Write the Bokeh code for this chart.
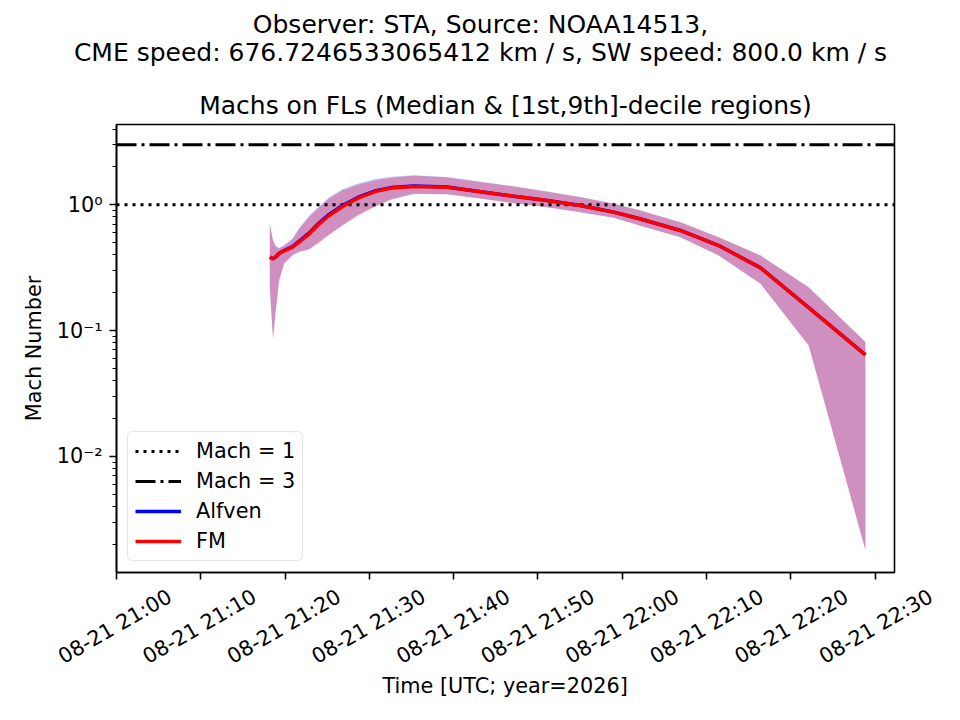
import math
import pandas as pd
from bokeh.plotting import figure
from bokeh.layouts import column
from bokeh.models import (Range1d, FixedTicker, CustomJSTickFormatter, Legend, LegendItem)
from bokeh.core.properties import value
from bokeh.embed import file_html
from bokeh.resources import INLINE

# ---------------- data ----------------
day = "2026-08-21"
times = ["21:18:11", "21:18:34", "21:18:54", "21:19:18", "21:19:53", "21:20:53",
         "21:21:40", "21:22:52", "21:24:03", "21:25:14", "21:26:49", "21:28:47",
         "21:30:46", "21:32:40", "21:35:16", "21:39:14", "21:43:11", "21:47:08",
         "21:51:05", "21:55:02", "21:58:59", "22:02:10", "22:06:54", "22:11:27",
         "22:16:25", "22:22:07", "22:28:51"]

fm_median = [0.383, 0.372, 0.385, 0.41, 0.43, 0.46, 0.505, 0.588, 0.706, 0.822, 0.97, 1.14,
             1.28, 1.36, 1.40, 1.38, 1.27, 1.17, 1.08, 0.987, 0.874, 0.77, 0.625, 0.474,
             0.315, 0.152, 0.064]
fm_p10 = [0.22, 0.086, 0.144, 0.25, 0.339, 0.395, 0.42, 0.44, 0.50, 0.575, 0.68, 0.83,
          0.97, 1.10, 1.22, 1.21, 1.12, 1.03, 0.955, 0.874, 0.79, 0.68, 0.552, 0.395,
          0.235, 0.076, 0.0018]
fm_p90 = [0.70, 0.52, 0.465, 0.45, 0.47, 0.53, 0.64, 0.80, 0.95, 1.12, 1.30, 1.45,
          1.57, 1.64, 1.70, 1.65, 1.52, 1.40, 1.27, 1.15, 1.02, 0.90, 0.727, 0.552,
          0.395, 0.221, 0.081]

alfven_median = [0.383, 0.372, 0.386, 0.412, 0.433, 0.465, 0.513, 0.598, 0.72, 0.838, 0.988,
                 1.158, 1.295, 1.372, 1.408, 1.383, 1.271, 1.17, 1.08, 0.987, 0.874, 0.77,
                 0.625, 0.474, 0.315, 0.152, 0.064]
alfven_p10 = [0.22, 0.087, 0.145, 0.252, 0.341, 0.398, 0.425, 0.445, 0.507, 0.583, 0.69, 0.84,
              0.98, 1.11, 1.225, 1.212, 1.12, 1.03, 0.955, 0.874, 0.79, 0.68, 0.552, 0.395,
              0.235, 0.076, 0.0018]
alfven_p90 = [0.705, 0.525, 0.468, 0.453, 0.476, 0.54, 0.655, 0.82, 0.975, 1.15, 1.33, 1.48,
              1.60, 1.67, 1.72, 1.66, 1.525, 1.405, 1.275, 1.152, 1.022, 0.90, 0.727, 0.552,
              0.395, 0.221, 0.081]

mach_levels = [1.0, 3.0]
mach_labels = ["Mach = 1", "Mach = 3"]
x_tick_times = ["21:00", "21:10", "21:20", "21:30", "21:40", "21:50",
                "22:00", "22:10", "22:20", "22:30"]
x_limits = ["21:00:00", "22:32:18"]
y_limits = [1.19e-3, 4.35]
y_major = [1e-2, 1e-1, 1e0]

suptitle_1 = "Observer: STA, Source: NOAA14513,"
suptitle_2 = "CME speed: 676.7246533065412 km / s, SW speed: 800.0 km / s"
title_text = "Machs on FLs (Median & [1st,9th]-decile regions)"
x_label = "Time [UTC; year=2026]"
y_label = "Mach Number"

# ---------------- layout constants ----------------
FONT = "DejaVu Sans"
W = 960
TOP_H, MAIN_H, BOT_H = 80, 500, 140
FL, FR = 116, 66                 # frame left / right borders
MAIN_TOP, MAIN_BOTTOM = 44, 8    # main figure borders above / below the frame


def ts(t):
    return pd.Timestamp(f"{day} {t}")


def bare_figure(height, x_range, y_range):
    f = figure(width=W, height=height, x_range=x_range, y_range=y_range,
               x_axis_location=None, y_axis_location=None, title=None,
               output_backend="svg", toolbar_location=None, frame_align=False,
               min_border_left=0, min_border_right=0, min_border_top=0, min_border_bottom=0)
    f.outline_line_color = None
    f.grid.visible = False
    return f


x = [ts(t) for t in times]
x0, x1 = ts(x_limits[0]), ts(x_limits[1])

# ---------------- top: suptitle ----------------
top = bare_figure(TOP_H, Range1d(0, W), Range1d(TOP_H, 0))
top.text(x=[W / 2, W / 2], y=[24, 52], text=[suptitle_1, suptitle_2],
         text_align="center", text_baseline="middle", text_font=value(FONT),
         text_font_size=value("25px"), text_color="black")

# ---------------- main plot ----------------
p = figure(width=W, height=MAIN_H, x_axis_type="datetime", y_axis_type="log",
           x_range=Range1d(x0, x1), y_range=Range1d(y_limits[0], y_limits[1]),
           output_backend="svg", toolbar_location=None, frame_align=False,
           min_border_left=FL, min_border_right=FR, min_border_top=MAIN_TOP,
           min_border_bottom=MAIN_BOTTOM)
p.xgrid.visible = False
p.ygrid.visible = False
p.outline_line_color = "black"
p.outline_line_width = 1.6
p.outline_line_alpha = 1.0

p.varea(x=x, y1=alfven_p10, y2=alfven_p90, fill_color="blue", fill_alpha=0.25)
p.varea(x=x, y1=fm_p10, y2=fm_p90, fill_color="red", fill_alpha=0.25)

r_m1 = p.line(x=[x0, x1], y=[mach_levels[0]] * 2, line_color="black", line_width=3,
              line_dash="3 5")
r_m3 = p.line(x=[x0, x1], y=[mach_levels[1]] * 2, line_color="black", line_width=3,
              line_dash="20 5 3 5")

r_alf = p.line(x=x, y=alfven_median, line_color="blue", line_width=3.5)
r_fm = p.line(x=x, y=fm_median, line_color="red", line_width=3.5)

legend = Legend(items=[LegendItem(label=mach_labels[0], renderers=[r_m1]),
                       LegendItem(label=mach_labels[1], renderers=[r_m3]),
                       LegendItem(label="Alfven", renderers=[r_alf]),
                       LegendItem(label="FM", renderers=[r_fm])],
                location="bottom_left", margin=11, padding=7, spacing=6,
                glyph_width=46, glyph_height=20, label_standoff=15,
                label_text_font=FONT, label_text_font_size="20.8px",
                label_text_color="black", border_radius=6,
                border_line_color="#cccccc", border_line_width=1.5,
                background_fill_alpha=0.8)
p.add_layout(legend)

tick_ts = [ts(t + ":00") for t in x_tick_times]
p.xaxis.ticker = FixedTicker(ticks=[t.value // 10**6 for t in tick_ts])
p.xaxis.formatter = CustomJSTickFormatter(code="return '';")

minor = []
for e in range(-3, 1):
    for k in range(2, 10):
        v = k * 10.0 ** e
        if y_limits[0] < v < y_limits[1]:
            minor.append(v)
p.yaxis.ticker = FixedTicker(ticks=y_major, minor_ticks=minor)
p.yaxis.formatter = CustomJSTickFormatter(code="""
const e = Math.round(Math.log10(tick));
const sup = {"0":"\u2070","1":"\u00b9","2":"\u00b2","3":"\u00b3","-":"\u207b"};
return "10" + String(e).split("").map(c => sup[c]).join("");
""")
p.yaxis.axis_label = y_label

for ax in (p.xaxis[0], p.yaxis[0]):
    ax.axis_line_color = "black"
    ax.axis_line_width = 1.6
    ax.major_tick_line_color = "black"
    ax.major_tick_line_width = 1.6
    ax.major_tick_out = 7
    ax.major_tick_in = 0
    ax.minor_tick_line_color = "black"
    ax.minor_tick_line_width = 1.2
    ax.minor_tick_out = 4
    ax.minor_tick_in = 0
    ax.major_label_text_font = FONT
    ax.major_label_text_font_size = "20.8px"
    ax.major_label_text_color = "black"
    ax.major_label_standoff = 7
    ax.axis_label_text_font = FONT
    ax.axis_label_text_font_size = "20.8px"
    ax.axis_label_text_font_style = "normal"
    ax.axis_label_text_color = "black"
p.xaxis.major_label_text_font_size = "0px"
p.xaxis.major_label_standoff = 0
p.yaxis.axis_label_standoff = 8

p.title.text = title_text
p.title.align = "center"
p.title.text_font = FONT
p.title.text_font_size = "25px"
p.title.text_font_style = "normal"
p.title.text_color = "black"

# ---------------- bottom: x tick labels and x label ----------------
span = x1 - x0
frame_w = W - FL - FR
per_px = span / frame_w
bot = bare_figure(BOT_H, Range1d(x0 - per_px * FL, x1 + per_px * FR), Range1d(BOT_H, 0))
bot.text(x=tick_ts, y=[46] * len(tick_ts), text=[t.strftime("%m-%d %H:%M") for t in tick_ts],
         angle=math.pi / 6, text_align="center", text_baseline="middle",
         text_font=value(FONT), text_font_size=value("20.8px"), text_color="black")
bot.text(x=[x0 + span / 2], y=[105], text=[x_label], text_align="center",
         text_baseline="middle", text_font=value(FONT), text_font_size=value("20.8px"),
         text_color="black")

layout = column(top, p, bot, spacing=0)
open("out.html", "w").write(file_html(layout, INLINE))
